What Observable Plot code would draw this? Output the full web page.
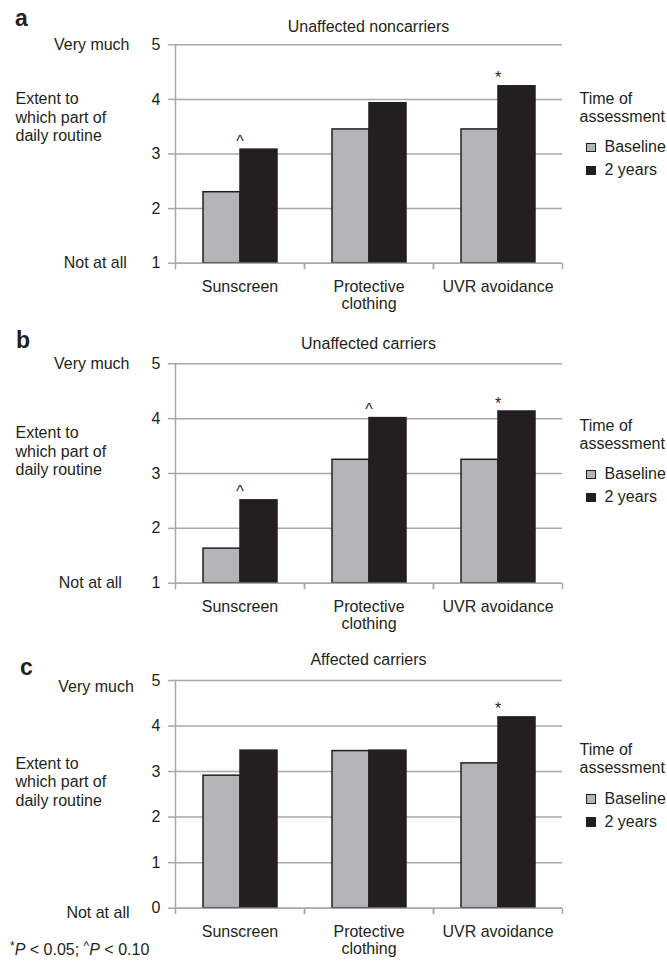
<!DOCTYPE html>
<html><head><meta charset="utf-8">
<script src="https://cdn.jsdelivr.net/npm/d3@7"></script>
<script src="https://cdn.jsdelivr.net/npm/@observablehq/plot@0.6"></script>
<style>
body{margin:0;background:#fff;}
#root{position:relative;width:667px;height:965px;font-family:"Liberation Sans",Arial,Helvetica,sans-serif;color:#231f20;overflow:hidden;}
.abs{position:absolute;white-space:nowrap;line-height:1;}
svg{position:absolute;left:0;overflow:visible;}
</style></head><body><div id="root"></div>
<script>
// ---------- data ----------
const categories = ["Sunscreen", "Protective clothing", "UVR avoidance"];
const categoryLabels = ["Sunscreen", "Protective\nclothing", "UVR avoidance"];
const series = ["Baseline", "2 years"];
const seriesColors = ["#b3b4b8", "#231f20"];
const panelLetters = ["a", "b", "c"];
const panelTitles = ["Unaffected noncarriers", "Unaffected carriers", "Affected carriers"];
const baselineA = [2.30, 3.45, 3.45];
const twoYearsA = [3.08, 3.93, 4.24];
const baselineB = [1.63, 3.25, 3.25];
const twoYearsB = [2.51, 4.01, 4.13];
const baselineC = [2.91, 3.45, 3.18];
const twoYearsC = [3.46, 3.46, 4.19];
const yTicksA = [1, 2, 3, 4, 5];
const yTicksB = [1, 2, 3, 4, 5];
const yTicksC = [0, 1, 2, 3, 4, 5];
const topLabel = "Very much";
const bottomLabel = "Not at all";
const yAxisTitle = ["Extent to", "which part of", "daily routine"];
const legendTitle = ["Time of", "assessment"];
const significanceA = [["Sunscreen", "^"], ["UVR avoidance", "*"]];
const significanceB = [["Sunscreen", "^"], ["Protective clothing", "^"], ["UVR avoidance", "*"]];
const significanceC = [["UVR avoidance", "*"]];

// ---------- layout (pixels) ----------
const FONT = '"Liberation Sans", Arial, Helvetica, sans-serif';
const FS = 16;
const GRID = "#a8a8a8";
const TEXT = "#231f20";
const layout = [
  {top: 0, frameTop: 44.3, frameH: 218.4, letterLeft: 15, letterBase: 26.7, titleBase: 32.7, extentBase: 105, legendBase: 104.5, veryPad: 46, veryDy: 0, notPad: 48.7, notDy: 0},
  {top: 319, frameTop: 363.3, frameH: 219.4, letterLeft: 16, letterBase: 348.3, titleBase: 350, extentBase: 439, legendBase: 431.5, veryPad: 46, veryDy: 0, notPad: 53.6, notDy: 0},
  {top: 636, frameTop: 680, frameH: 227.7, letterLeft: 20, letterBase: 675, titleBase: 666, extentBase: 769.3, legendBase: 756, veryPad: 41.7, veryDy: 6, notPad: 46, notDy: 5}
];

const panels = [
  {base: baselineA, two: twoYearsA, ticks: yTicksA, sig: significanceA},
  {base: baselineB, two: twoYearsB, ticks: yTicksB, sig: significanceB},
  {base: baselineC, two: twoYearsC, ticks: yTicksC, sig: significanceC}
];

const root = document.getElementById("root");
function place(html, left, baseline, fs, extra = "") {
  const d = document.createElement("div");
  d.className = "abs";
  d.style.cssText = `left:${left}px;top:${baseline - 0.8465 * fs}px;font-size:${fs}px;${extra}`;
  d.innerHTML = html;
  root.appendChild(d);
  return d;
}

const tickDown = {draw(ctx) { ctx.moveTo(0, 0); ctx.lineTo(0, 6); }};

panels.forEach((p, k) => {
  const L = layout[k];
  const rows = [];
  categories.forEach((c, i) => {
    rows.push({category: c, series: series[0], value: p.base[i]});
    rows.push({category: c, series: series[1], value: p.two[i]});
  });
  const sig = p.sig.map(([c, m]) => ({category: c, mark: m, value: Math.max(p.base[categories.indexOf(c)], p.two[categories.indexOf(c)])}));
  const yMin = p.ticks[0], yMax = p.ticks[p.ticks.length - 1];
  const marginTop = L.frameTop - L.top;
  const marginBottom = 60;
  const chart = Plot.plot({
    width: 667,
    height: marginTop + L.frameH + marginBottom,
    marginTop, marginBottom, marginLeft: 174, marginRight: 104,
    style: {fontFamily: FONT, fontSize: FS + "px", color: TEXT, background: "transparent", overflow: "visible"},
    fx: {domain: categories, padding: 0, label: null},
    x: {domain: series, paddingInner: 0, paddingOuter: 0.733, axis: null},
    y: {domain: [yMin, yMax], label: null},
    color: {domain: series, range: seriesColors},
    marks: [
      Plot.ruleY(p.ticks, {stroke: GRID, strokeWidth: 1.5}),
      Plot.barY(rows, {fx: "category", x: "series", y1: yMin, y2: "value", fill: "series", stroke: "#231f20", strokeWidth: 1.5}),
      Plot.ruleY([yMin], {stroke: GRID, strokeWidth: 1.5}),
      Plot.frame({anchor: "left", facetAnchor: "left", stroke: GRID, strokeWidth: 1.5}),
      Plot.dot([0], {frameAnchor: "bottom-left", symbol: tickDown, stroke: GRID, strokeWidth: 1.5, fill: "none"}),
      Plot.dot([0], {frameAnchor: "bottom-right", symbol: tickDown, stroke: GRID, strokeWidth: 1.5, fill: "none"}),
      Plot.axisY(p.ticks, {tickSize: 7, tickPadding: 8, stroke: GRID, strokeWidth: 1.5, color: TEXT, fill: TEXT, fontSize: FS, label: null, tickFormat: d => String(d)}),
      Plot.axisY([yMax], {tickSize: 0, tickPadding: L.veryPad, dy: L.veryDy, color: TEXT, fill: TEXT, fontSize: FS, label: null, tickFormat: () => topLabel}),
      Plot.axisY([yMin], {tickSize: 0, tickPadding: L.notPad, dy: L.notDy, color: TEXT, fill: TEXT, fontSize: FS, label: null, tickFormat: () => bottomLabel}),
      Plot.axisFx({anchor: "bottom", tickSize: 0, tickPadding: 16, color: TEXT, fill: TEXT, fontSize: FS, lineHeight: 1.1, label: null, tickFormat: d => categoryLabels[categories.indexOf(d)]}),
      Plot.text(sig, {fx: "category", y: "value", text: "mark", lineAnchor: "bottom", dy: -3, fill: TEXT, fontSize: FS})
    ]
  });
  chart.style.top = L.top + "px";
  root.appendChild(chart);

  // panel letter and title
  place(panelLetters[k], L.letterLeft, L.letterBase, 23, "font-weight:bold;");
  place(panelTitles[k], 174, L.titleBase, FS, "width:389px;text-align:center;");
  // y-axis description
  yAxisTitle.forEach((s, i) => place(s, 15.5, L.extentBase + i * 18.5, FS));
  // legend
  place(legendTitle[0], 579.5, L.legendBase, FS);
  place(legendTitle[1], 579.5, L.legendBase + 18, FS);
  const rowsBase = [L.legendBase + 48.5, L.legendBase + 71.5];
  series.forEach((s, i) => {
    const sw = document.createElement("div");
    sw.className = "abs";
    sw.style.cssText = `left:586px;top:${rowsBase[i] - 10.5}px;width:7.5px;height:7.5px;background:${seriesColors[i]};border:1px solid #231f20;`;
    root.appendChild(sw);
    place(s, 604.5, rowsBase[i], FS);
  });
});

// footnote
place('<span style="position:relative;top:-5px;font-size:12px">*</span><i>P</i> &lt; 0.05; <span style="position:relative;top:-5px;font-size:12px">^</span><i>P</i> &lt; 0.10', 10, 956, FS);
</script></body></html>
